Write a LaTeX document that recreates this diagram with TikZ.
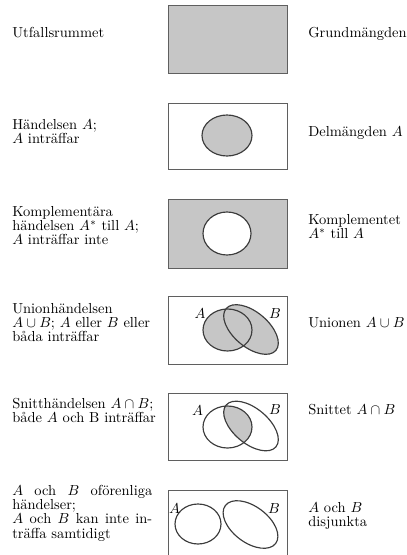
\documentclass[tikz,border=0pt]{standalone}
\usepackage{fontspec}
\definecolor{shadec}{RGB}{198,198,198}
\definecolor{framec}{RGB}{95,95,95}
\definecolor{linec}{RGB}{60,60,60}
\begin{document}
\begin{tikzpicture}[x=0.69pt,y=-0.69pt,
  txt/.style={anchor=base west, inner sep=0pt, font=\fontsize{10pt}{10pt}\selectfont},
  frame/.style={draw=framec, line width=0.6pt},
  ell/.style={draw=linec, line width=0.8pt},
  shade/.style={fill=shadec},
  lab/.style={inner sep=0pt, font=\fontsize{10pt}{10pt}\selectfont}]
\useasboundingbox (0,0) rectangle (407,555);

% Box 1
\fill[shade] (168,5) rectangle (287,73);
\draw[frame] (168,5) rectangle (287,73);

% Box 2
\draw[frame] (168,103) rectangle (287,169);
\filldraw[ell, shade] (227,135.5) ellipse [x radius=25, y radius=20.5];

% Box 3
\filldraw[frame, shade] (168,199) rectangle (287,268);
\filldraw[ell, fill=white] (227,233.5) ellipse [x radius=24, y radius=21.5];

% Box 4 (union)
\draw[frame] (168,296) rectangle (287,364);
\fill[shade] (227.5,330) ellipse [x radius=24.5, y radius=21];
\fill[shade, rotate around={-40:(251,329.5)}] (251,329.5) ellipse [x radius=32.5, y radius=17.5];
\draw[ell] (227.5,330) ellipse [x radius=24.5, y radius=21];
\draw[ell, rotate around={-40:(251,329.5)}] (251,329.5) ellipse [x radius=32.5, y radius=17.5];
\node[lab] (a4) at (200,314) {$A$};
\node[lab] (b4) at (275,314) {$B$};

% Box 5 (intersection)
\draw[frame] (168,393) rectangle (287,460);
\begin{scope}
  \clip (227.5,427) ellipse [x radius=24.5, y radius=21];
  \fill[shade, rotate around={-40:(251,426)}] (251,426) ellipse [x radius=32.5, y radius=17.5];
\end{scope}
\draw[ell] (227.5,427) ellipse [x radius=24.5, y radius=21];
\draw[ell, rotate around={-40:(251,426)}] (251,426) ellipse [x radius=32.5, y radius=17.5];
\node[lab] (a5) at (197.5,410.5) {$A$};
\node[lab] (b5) at (275,410) {$B$};

% Box 6 (disjoint)
\draw[frame] (168,490) rectangle (287,562);
\draw[ell] (198,524) ellipse [x radius=23, y radius=20];
\draw[ell, rotate around={-37:(250.5,524.5)}] (250.5,524.5) ellipse [x radius=31.5, y radius=18];
\node[lab] (a6) at (174.5,509) {$A$};
\node[lab] (b6) at (274,509) {$B$};

% Left texts
\node[txt] (l1) at (12,38) {Utfallsrummet};
\node[txt] (l2) at (12,129) {\parbox[t]{130pt}{\raggedright Händelsen $A$;\\ $A$ inträffar}};
\node[txt] (l3) at (12,216) {\parbox[t]{130pt}{\raggedright Komplementära\\ händelsen $A^*$ till $A$;\\ $A$ inträffar inte}};
\node[txt] (l4) at (12,313) {\parbox[t]{130pt}{\raggedright Unionhändelsen\\ $A\cup B$; $A$ eller $B$ eller\\ båda inträffar}};
\node[txt] (l5) at (12,408) {\parbox[t]{130pt}{\raggedright Snitthändelsen $A\cap B$;\\ både $A$ och B inträffar}};
\node[txt] (l6) at (12,495) {\parbox[t]{96.6pt}{\makebox[96.6pt][s]{$A$ och $B$ oförenliga}\\ händelser;\\ \makebox[96.6pt][s]{$A$ och $B$ kan inte in-}\\ träffa samtidigt}};

% Right texts
\node[txt] (r1) at (308,38) {Grundmängden};
\node[txt] (r2) at (308,137) {Delmängden $A$};
\node[txt] (r3) at (308,224) {\parbox[t]{100pt}{\raggedright Komplementet\\ $A^*$ till $A$}};
\node[txt] (r4) at (308,327) {Unionen $A\cup B$};
\node[txt] (r5) at (308,414) {Snittet $A\cap B$};
\node[txt] (r6) at (308,512) {\parbox[t]{100pt}{\raggedright $A$ och $B$\\ disjunkta}};
\end{tikzpicture}
\end{document}
